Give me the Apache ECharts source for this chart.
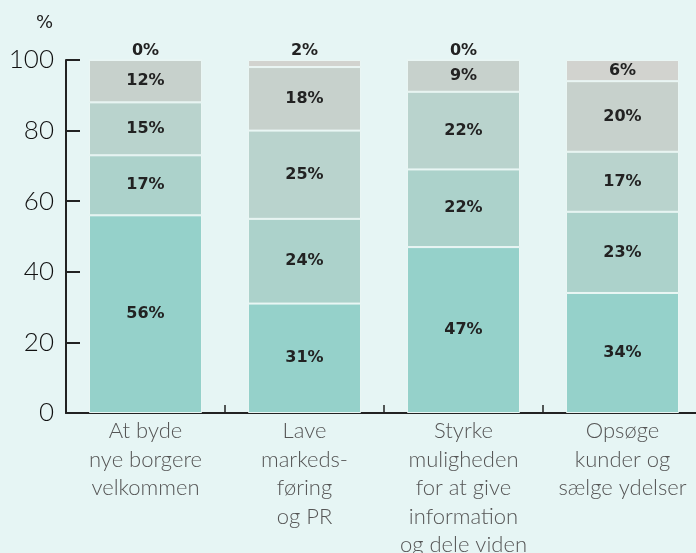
<!DOCTYPE html>
<html>
<head>
<meta charset="utf-8">
<style>
  html, body { margin: 0; padding: 0; background: #e6f5f4; }
  #chart { width: 696px; height: 553px; }
</style>
<script src="https://cdn.jsdelivr.net/npm/echarts@6/dist/echarts.min.js"></script>
</head>
<body>
<div id="chart"></div>
<script>
// Categories (axis labels, with line breaks)
const categories = [
  'At byde\nnye borgere\nvelkommen',
  'Lave\nmarkeds-\nføring\nog PR',
  'Styrke\nmuligheden\nfor at give\ninformation\nog dele viden',
  'Opsøge\nkunder og\nsælge ydelser'
];

// Stacked shares, bottom to top (percent)
const level1 = [56, 31, 47, 34];
const level2 = [17, 24, 22, 23];
const level3 = [15, 25, 22, 17];
const level4 = [12, 18, 9, 20];
const level5 = [0, 2, 0, 6];

const yTicks = [0, 20, 40, 60, 80, 100];

const levels = [level1, level2, level3, level4, level5];
const colors = ['#95d1ca', '#acd2cb', '#b9d3cd', '#c7d1cc', '#d2d3cf'];

const labelBase = {
  show: true,
  formatter: p => p.value + '%',
  fontFamily: 'DejaVu Sans',
  fontWeight: 'bold',
  fontSize: 16,
  color: '#222'
};

const series = levels.map((vals, i) => ({
  type: 'bar',
  stack: 'total',
  barWidth: 113,
  itemStyle: { color: colors[i], borderColor: '#eaf6f4', borderWidth: 1 },
  label: Object.assign({}, labelBase, { position: 'inside' }),
  data: vals.map(v => {
    // very thin segments get their label placed just above the bar
    if (v < 4) {
      return { value: v, label: { position: 'top', distance: 1 } };
    }
    return v;
  })
}));

const chart = echarts.init(document.getElementById('chart'));
chart.setOption({
  backgroundColor: '#e6f5f4',
  animation: false,
  grid: { left: 66, top: 60, width: 636, height: 353, outerBoundsMode: 'none', containLabel: false },
  graphic: [{
    type: 'text',
    left: 36, top: 14,
    style: { text: '%', fontFamily: 'DejaVu Sans', fontSize: 18, fill: '#222' }
  }],
  xAxis: {
    type: 'category',
    data: categories,
    axisLine: { lineStyle: { color: '#222', width: 2 } },
    axisTick: { show: true, inside: true, length: 8, lineStyle: { color: '#222', width: 1.5 } },
    axisLabel: {
      interval: 0,
      margin: 4,
      fontFamily: 'Lato',
      fontWeight: 300,
      fontSize: 22,
      lineHeight: 28.5,
      color: '#555'
    }
  },
  yAxis: {
    type: 'value',
    min: yTicks[0],
    max: yTicks[yTicks.length - 1],
    interval: 20,
    splitLine: { show: false },
    axisLine: { show: true, lineStyle: { color: '#222', width: 2 } },
    axisTick: { show: true, inside: true, length: 14, lineStyle: { color: '#222', width: 2 } },
    axisLabel: {
      margin: 12,
      fontFamily: 'Lato',
      fontWeight: 300,
      fontSize: 26,
      color: '#111'
    }
  },
  series: series
});
</script>
</body>
</html>
